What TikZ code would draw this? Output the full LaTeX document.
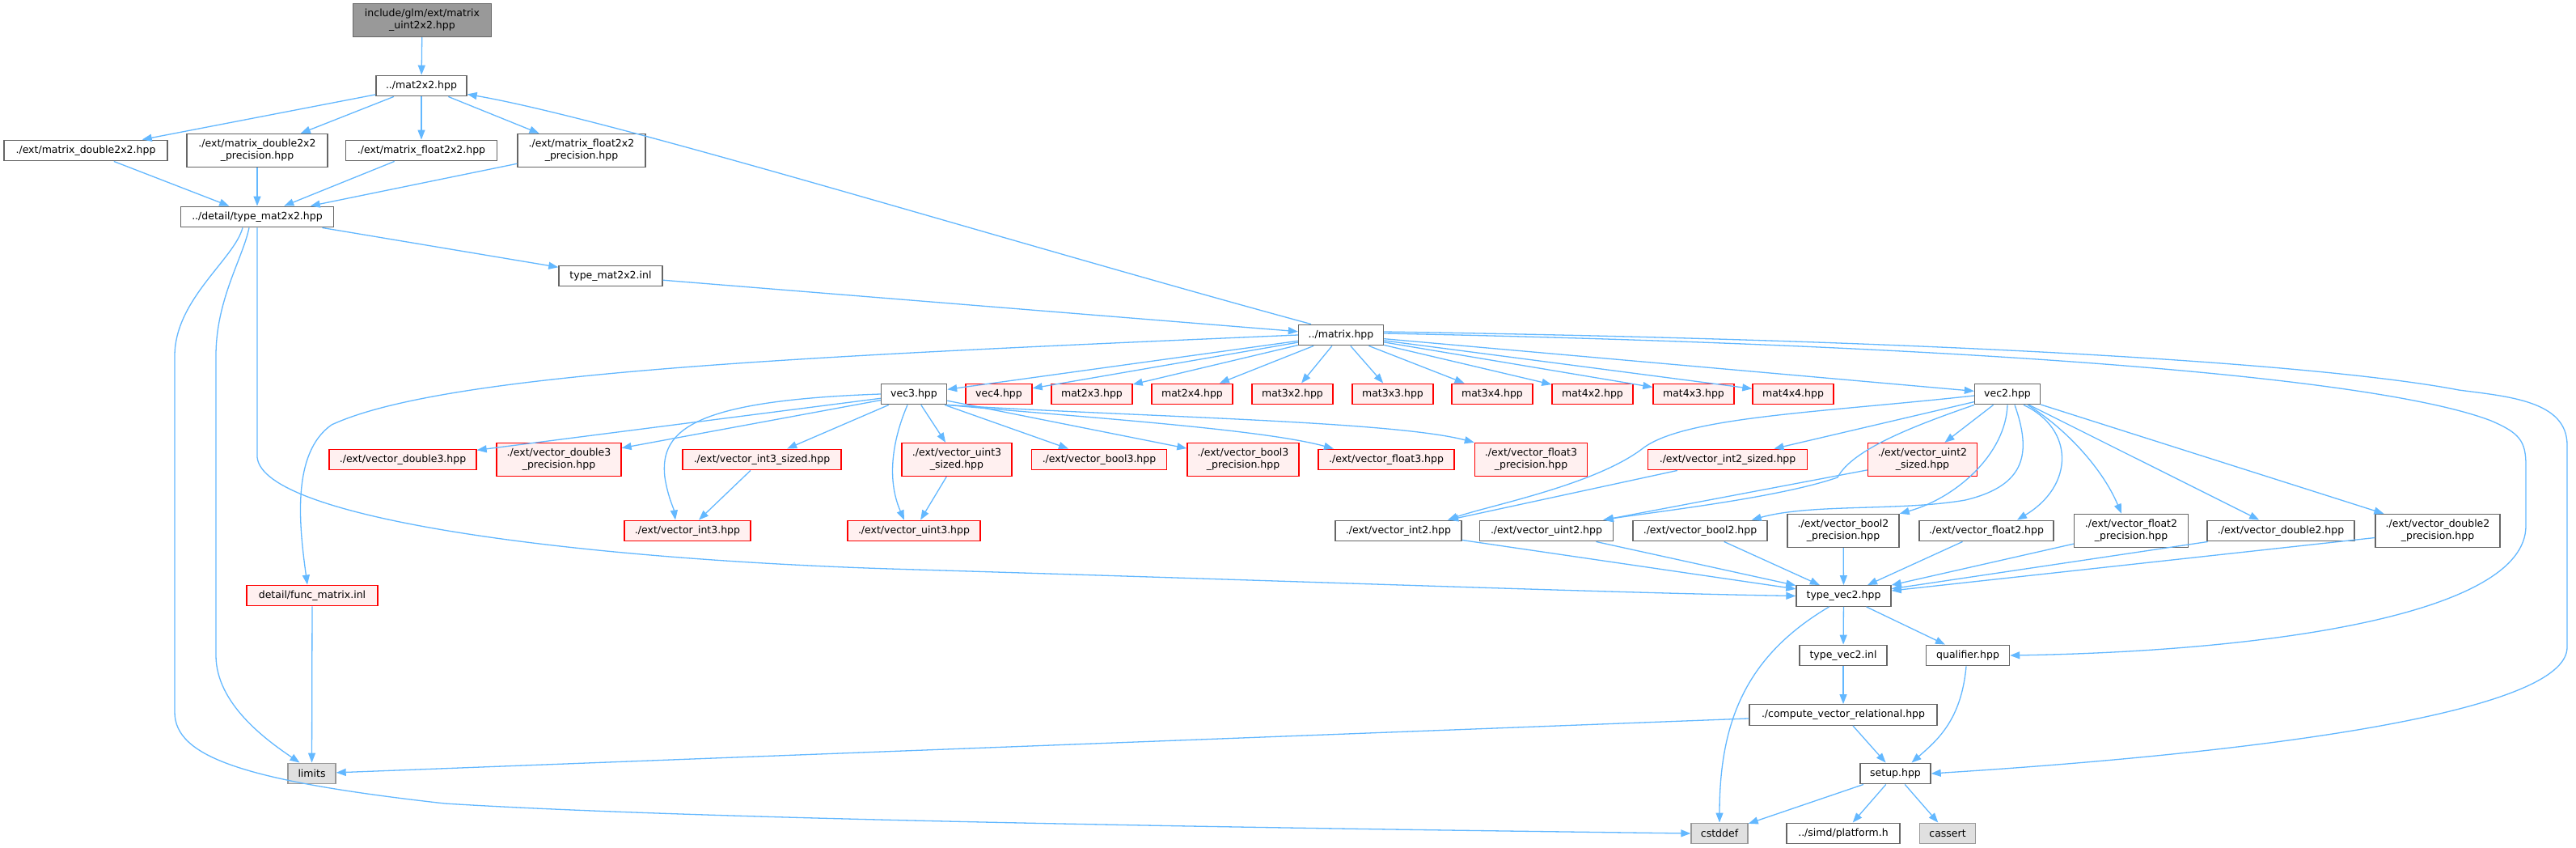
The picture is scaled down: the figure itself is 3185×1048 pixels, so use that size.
\documentclass[tikz,border=0pt]{standalone}
\usepackage{fontspec}
\setmainfont{DejaVu Sans}
\usepackage{tikz}
\usetikzlibrary{arrows.meta}
\definecolor{edgeblue}{RGB}{99,184,255}
\definecolor{boxgray}{RGB}{102,102,102}
\definecolor{boxred}{RGB}{255,0,0}
\definecolor{fillred}{RGB}{255,240,240}
\definecolor{sysgray}{RGB}{153,153,153}
\definecolor{sysfill}{RGB}{224,224,224}

\begin{document}
\begin{tikzpicture}[x=1pt, y=-1pt,
  hdr/.style={draw=boxgray, fill=white, line width=1.4pt, rectangle, inner sep=0pt,
    minimum width=#1, minimum height=25.5pt, align=center,
    font=\fontsize{12.5}{15}\selectfont},
  two/.style={minimum height=41pt},
  redhdr/.style={hdr=#1, draw=boxred, fill=fillred},
  syshdr/.style={hdr=#1, draw=sysgray, fill=sysfill},
  roothdr/.style={hdr=#1, draw=boxgray, fill=sysgray},
  dep/.style={draw=edgeblue, line width=1.3pt, -{Triangle[length=12pt,width=9pt]}}]
  \fill[white] (0,0) rectangle (3185,1048);
  \useasboundingbox (0,0) rectangle (3185,1048);

  % top part
  \node[roothdr=171, two] (root) at (522,25) {include/glm/ext/matrix\\\_uint2x2.hpp};
  \node[hdr=112] (mat22) at (521,106) {../mat2x2.hpp};
  \node[hdr=202] (md22) at (106,186) {./ext/matrix\_double2x2.hpp};
  \node[hdr=174, two] (md22p) at (318,186) {./ext/matrix\_double2x2\\\_precision.hpp};
  \node[hdr=187] (mf22) at (521,186) {./ext/matrix\_float2x2.hpp};
  \node[hdr=158, two] (mf22p) at (719,186) {./ext/matrix\_float2x2\\\_precision.hpp};
  \node[hdr=189] (tmat) at (318,268) {../detail/type\_mat2x2.hpp};
  \node[hdr=128] (tmatinl) at (755,341) {type\_mat2x2.inl};
  \node[hdr=105] (matrix) at (1658,414) {../matrix.hpp};

  % row under matrix.hpp
  \node[hdr=81] (vec3) at (1130,487) {vec3.hpp};
  \node[redhdr=82] (vec4) at (1235,487) {vec4.hpp};
  \node[redhdr=100] (m23) at (1350,487) {mat2x3.hpp};
  \node[redhdr=100] (m24) at (1474,487) {mat2x4.hpp};
  \node[redhdr=100] (m32) at (1598,487) {mat3x2.hpp};
  \node[redhdr=100] (m33) at (1722,487) {mat3x3.hpp};
  \node[redhdr=100] (m34) at (1845,487) {mat3x4.hpp};
  \node[redhdr=100] (m42) at (1969,487) {mat4x2.hpp};
  \node[redhdr=100] (m43) at (2094,487) {mat4x3.hpp};
  \node[redhdr=100] (m44) at (2217,487) {mat4x4.hpp};
  \node[hdr=81] (vec2) at (2482,487) {vec2.hpp};

  % vec3 includes
  \node[redhdr=182] (vd3) at (498,568) {./ext/vector\_double3.hpp};
  \node[redhdr=154, two] (vd3p) at (691,568) {./ext/vector\_double3\\\_precision.hpp};
  \node[redhdr=196] (vi3s) at (942,568) {./ext/vector\_int3\_sized.hpp};
  \node[redhdr=156] (vi3) at (850,656) {./ext/vector\_int3.hpp};
  \node[redhdr=136, two] (vu3s) at (1183,568) {./ext/vector\_uint3\\\_sized.hpp};
  \node[redhdr=164] (vu3) at (1130,656) {./ext/vector\_uint3.hpp};
  \node[redhdr=167] (vb3) at (1359,568) {./ext/vector\_bool3.hpp};
  \node[redhdr=138, two] (vb3p) at (1537,568) {./ext/vector\_bool3\\\_precision.hpp};
  \node[redhdr=168] (vf3) at (1714,568) {./ext/vector\_float3.hpp};
  \node[redhdr=139, two] (vf3p) at (1893,568) {./ext/vector\_float3\\\_precision.hpp};

  % vec2 includes
  \node[redhdr=197] (vi2s) at (2136,568) {./ext/vector\_int2\_sized.hpp};
  \node[redhdr=135, two] (vu2s) at (2377,568) {./ext/vector\_uint2\\\_sized.hpp};
  \node[hdr=156] (vi2) at (1729,656) {./ext/vector\_int2.hpp};
  \node[hdr=165] (vu2) at (1912,656) {./ext/vector\_uint2.hpp};
  \node[hdr=166] (vb2) at (2102,656) {./ext/vector\_bool2.hpp};
  \node[hdr=138, two] (vb2p) at (2279,656) {./ext/vector\_bool2\\\_precision.hpp};
  \node[hdr=166] (vf2) at (2456,656) {./ext/vector\_float2.hpp};
  \node[hdr=141, two] (vf2p) at (2635,656) {./ext/vector\_float2\\\_precision.hpp};
  \node[hdr=182] (vdb2) at (2820,656) {./ext/vector\_double2.hpp};
  \node[hdr=154, two] (vdb2p) at (3014,656) {./ext/vector\_double2\\\_precision.hpp};

  % bottom part
  \node[redhdr=162] (fmat) at (386,736) {detail/func\_matrix.inl};
  \node[syshdr=59] (limits) at (385.5,956) {limits};
  \node[hdr=117] (tvec2) at (2279.5,736.5) {type\_vec2.hpp};
  \node[hdr=108] (tvec2inl) at (2279,810) {type\_vec2.inl};
  \node[hdr=103] (qual) at (2433,810) {qualifier.hpp};
  \node[hdr=232] (cvr) at (2279,883.5) {./compute\_vector\_relational.hpp};
  \node[hdr=87] (setup) at (2343.5,956) {setup.hpp};
  \node[syshdr=70] (cstddef) at (2126,1030) {cstddef};
  \node[hdr=140] (platform) at (2279,1030) {../simd/platform.h};
  \node[syshdr=69] (cassert) at (2408,1030) {cassert};

  % edges, top
  \draw[dep] (root) -- (mat22);
  \foreach \t in {md22,md22p,mf22,mf22p} {
    \draw[dep] (mat22) -- (\t);
    \draw[dep] (\t) -- (tmat);
  }
  \draw[dep] (tmat) -- (tmatinl);
  \draw[dep] (tmatinl) -- (matrix);
  \draw[dep] ([xshift=-37pt]matrix.north) .. controls (1250,300) and (760,148) .. ([yshift=3pt]mat22.south east);
  \draw[dep] (tmat.south) -- (318,565) .. controls (325,640) and (700,690) .. (1100,703)
    .. controls (1600,718) and (2000,733) .. (tvec2.west);
  \draw[dep] ([xshift=-10pt]tmat.south) .. controls (300,320) and (267,370) .. (267,440) -- (267,810)
    .. controls (267,870) and (330,915) .. ([xshift=-15pt]limits.north);
  \draw[dep] ([xshift=-18pt]tmat.south) .. controls (290,320) and (216,370) .. (216,440) -- (216,880)
    .. controls (216,935) and (300,965) .. (550,993) .. controls (900,1015) and (1700,1025) .. (cstddef.west);

  % edges from matrix.hpp
  \foreach \t in {vec3,vec4,m23,m24,m32,m33,m34,m42,m43,m44,vec2}
    \draw[dep] (matrix) -- (\t);
  \draw[dep] (matrix.west) .. controls (1000,440) and (550,460) .. (410,525)
    .. controls (360,560) and (370,650) .. ([xshift=-6pt]fmat.north);
  \draw[dep] (fmat) -- (limits);
  \draw[dep] ([yshift=2pt]matrix.east) .. controls (2500,428) and (2950,470) .. (3080,520)
    .. controls (3115,535) and (3123,545) .. (3123,575) -- (3123,650)
    .. controls (3123,760) and (2800,805) .. (qual.east);
  \draw[dep] ([yshift=4pt]matrix.east) .. controls (2500,422) and (2900,455) .. (3040,482)
    .. controls (3100,490) and (3174,495) .. (3174,550) -- (3174,800)
    .. controls (3174,880) and (2800,930) .. (setup.east);

  % edges from vec3.hpp
  \foreach \t in {vd3,vd3p,vi3s,vu3s,vb3,vb3p}
    \draw[dep] (vec3) -- (\t);
  \draw[dep] (vec3.west) .. controls (860,495) and (815,530) .. (822,590)
    .. controls (826,615) and (833,628) .. ([xshift=-15pt]vi3.north);
  \draw[dep] (vi3s) -- (vi3);
  \draw[dep] ([xshift=-8pt]vec3.south) .. controls (1105,540) and (1095,590) .. ([xshift=-12pt]vu3.north);
  \draw[dep] (vu3s) -- (vu3);
  \draw[dep] (vec3.south east) .. controls (1330,515) and (1560,530) .. ([xshift=-65pt]vf3.north);
  \draw[dep] (vec3.south east) .. controls (1400,515) and (1720,520) .. (vf3p.north west);

  % edges from vec2.hpp
  \foreach \t in {vi2s,vu2s,vdb2,vdb2p}
    \draw[dep] (vec2) -- (\t);
  \draw[dep] (vi2s) -- (vi2);
  \draw[dep] (vu2s) -- (vu2);
  \draw[dep] ([yshift=-2pt]vec2.west) .. controls (2250,510) and (2080,515) .. (2030,555)
    .. controls (1970,600) and (1840,625) .. ([xshift=61pt]vi2.north);
  \draw[dep] (vec2.south west) .. controls (2370,525) and (2290,555) .. (2272,590)
    .. controls (2200,615) and (2050,632) .. ([xshift=70pt]vu2.north);
  \draw[dep] (vec2.south) .. controls (2480,560) and (2420,615) .. (vb2p.north east);
  \draw[dep] ([xshift=9pt]vec2.south) .. controls (2512,560) and (2505,600) .. (2430,618)
    .. controls (2350,632) and (2240,622) .. ([xshift=-20pt]vb2.north east);
  \draw[dep] ([xshift=20pt]vec2.south) .. controls (2565,530) and (2565,600) .. ([xshift=38pt]vf2.north);
  \draw[dep] ([xshift=25pt]vec2.south) .. controls (2555,530) and (2600,580) .. ([xshift=-12pt]vf2p.north);
  \foreach \t in {vi2,vu2,vb2,vb2p,vf2,vf2p,vdb2,vdb2p}
    \draw[dep] (\t) -- (tvec2);

  % edges, bottom
  \draw[dep] (tvec2) -- (tvec2inl);
  \draw[dep] (tvec2) -- (qual);
  \draw[dep] ([xshift=-18pt]tvec2.south) .. controls (2160,810) and (2126,890) .. (cstddef.north);
  \draw[dep] (tvec2inl) -- (cvr);
  \draw[dep] (cvr) -- (limits);
  \draw[dep] (cvr) -- (setup);
  \draw[dep] ([xshift=-2pt]qual.south) .. controls (2425,890) and (2395,915) .. ([xshift=20pt]setup.north);
  \foreach \t in {cstddef,platform,cassert}
    \draw[dep] (setup) -- (\t);
\end{tikzpicture}
\end{document}
